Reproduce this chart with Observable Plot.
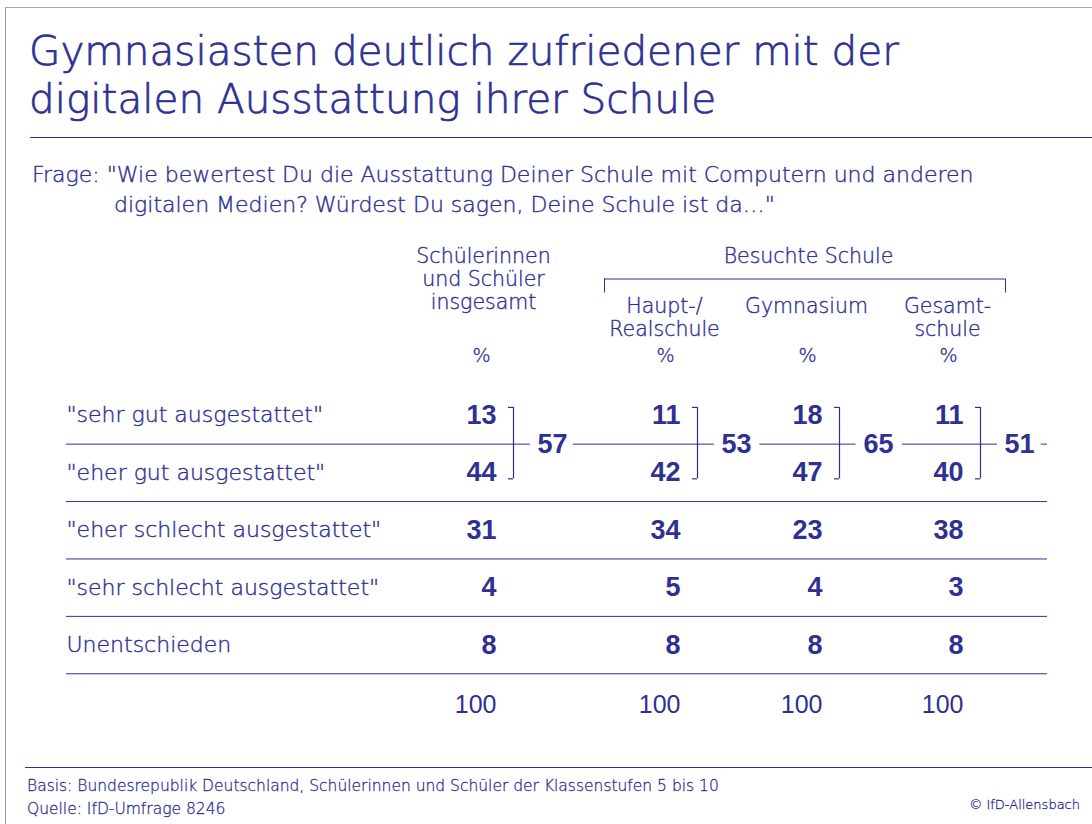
<!DOCTYPE html>
<html>
<head>
<meta charset="utf-8">
<script src="https://cdn.jsdelivr.net/npm/d3@7"></script>
<script src="https://cdn.jsdelivr.net/npm/@observablehq/plot@0.6"></script>
<style>
  html, body { margin: 0; padding: 0; background: #fff; }
  #page { position: relative; width: 1092px; height: 824px; overflow: hidden;
          font-family: "DejaVu Sans", sans-serif; color: #2e3192; background: #fff; }
  #frame { position: absolute; left: 5px; top: 7px; width: 1200px; height: 900px;
           border-left: 1.5px solid #9a9a9a; border-top: 1.5px solid #a8a8a8; }
  .abs { position: absolute; white-space: nowrap; }
  #title { left: 29px; top: 27px; font-size: 40.5px; line-height: 48px; font-weight: 200;
           -webkit-text-stroke: 0.7px #2e3192; }
  #rule1 { left: 30px; top: 137px; width: 1070px; height: 1.2px; background: #2e3192; }
  .q { font-size: 22px; line-height: 30px; font-weight: 200; -webkit-text-stroke: 0.4px #2e3192; }
  #q1 { left: 32px; top: 160px; }
  #q2 { left: 114px; top: 190px; }
  #chart { left: 0; top: 230px; }
  #rule2 { left: 25px; top: 767px; width: 1070px; height: 1.2px; background: #2e3192; }
  .foot { font-size: 15.5px; line-height: 22px; font-weight: 200; -webkit-text-stroke: 0.3px #2e3192; }
  #f1 { left: 27px; top: 775px; }
  #f2 { left: 27px; top: 798px; }
  #copy { right: 12px; top: 795px; font-size: 13px; line-height: 20px; font-weight: 200; -webkit-text-stroke: 0.3px #2e3192; }
</style>
</head>
<body>
<div id="page">
  <div id="frame"></div>
  <div id="title" class="abs">Gymnasiasten deutlich zufriedener mit der<br>digitalen Ausstattung ihrer Schule</div>
  <div id="rule1" class="abs"></div>
  <div id="q1" class="abs q">Frage: "Wie bewertest Du die Ausstattung Deiner Schule mit Computern und anderen</div>
  <div id="q2" class="abs q">digitalen Medien? Würdest Du sagen, Deine Schule ist da…"</div>
  <div id="chart" class="abs"></div>
  <div id="rule2" class="abs"></div>
  <div id="f1" class="abs foot">Basis: Bundesrepublik Deutschland, Schülerinnen und Schüler der Klassenstufen 5 bis 10</div>
  <div id="f2" class="abs foot">Quelle: IfD-Umfrage 8246</div>
  <div id="copy" class="abs">© IfD-Allensbach</div>
</div>
<script>
// ---- data ----
const rowLabels = [
  '"sehr gut ausgestattet"',
  '"eher gut ausgestattet"',
  '"eher schlecht ausgestattet"',
  '"sehr schlecht ausgestattet"',
  'Unentschieden'
];
const columnLabels = ["Schülerinnen\nund Schüler\ninsgesamt", "Haupt-/\nRealschule", "Gymnasium", "Gesamt-\nschule"];
const groupLabel = "Besuchte Schule";
const unitLabel = "%";
const insgesamt    = [13, 44, 31, 4, 8];
const hauptReal    = [11, 42, 34, 5, 8];
const gymnasium    = [18, 47, 23, 4, 8];
const gesamtschule = [11, 40, 38, 3, 8];

// ---- derived tables ----
const series = [insgesamt, hauptReal, gymnasium, gesamtschule];
const cols = columnLabels.map((label, c) => ({col: c, label}));
const cells = series.flatMap((vals, c) => vals.map((v, r) => ({col: c, row: r, value: v})));
const goodTotals = series.map((vals, c) => ({col: c, value: vals[0] + vals[1]}));
const sumRow = rowLabels.length; // row index of the 100 line
const sums = series.map((vals, c) => ({col: c, value: d3.sum(vals)}));
const rows = rowLabels.map((label, r) => ({row: r, label}));
const separators = rowLabels.map((_, r) => r + 0.5);
const first = 0, last = series.length - 1;
const tableStart = -1, tableEnd = series.length; // label column and right end of the rules

const blue = "#2e3192";
const textFont = "'DejaVu Sans', sans-serif";
const numFont = "'Liberation Sans', Arial, sans-serif";
const thin = {fill: blue, stroke: blue, strokeWidth: 0.4, fontWeight: 200};

const chart = Plot.plot({
  width: 1092,
  height: 510,
  margin: 0,
  x: {type: "linear", domain: [-1, 0, 1, 2, 3, 4], range: [66, 496, 680, 822, 963, 1047], axis: null},
  y: {type: "linear", domain: [-1, sumRow], range: [127.5, 472], axis: null},
  style: {fontFamily: textFont, fontSize: "20px", color: blue, background: "transparent", overflow: "visible"},
  marks: [
    // row separators
    Plot.ruleY(separators, {y: d => d, x1: tableStart, x2: tableEnd, stroke: blue, strokeWidth: 1}),
    // row labels
    Plot.text(rows, {x: tableStart, y: "row", text: "label", textAnchor: "start", fontSize: 22, ...thin}),
    // header: total column
    Plot.text(cols.filter(d => d.col === first), {x: "col", y: () => -1, text: "label", dx: -13, dy: -111,
      lineAnchor: "top", lineHeight: 1.12, fontSize: 20.5, ...thin}),
    // header: school types
    Plot.text(cols.filter(d => d.col !== first), {x: "col", y: () => -1, text: "label", dx: -16, dy: -61,
      lineAnchor: "top", lineHeight: 1.1, fontSize: 20.5, ...thin}),
    // group label + bracket
    Plot.text([groupLabel], {x: () => 2, y: () => -1, text: d => d, dx: -14, dy: -102, fontSize: 20.5, ...thin}),
    Plot.ruleY([groupLabel], {y: () => -1, x1: () => 1, x2: () => last, dy: -79, insetLeft: -76, insetRight: -42, stroke: blue}),
    Plot.ruleX([groupLabel], {x: () => 1, y1: () => -1, y2: () => -1, dx: -76, dy: -79, insetBottom: -14, stroke: blue}),
    Plot.ruleX([groupLabel], {x: () => last, y1: () => -1, y2: () => -1, dx: 42, dy: -79, insetBottom: -14, stroke: blue}),
    // % row
    Plot.text(cols, {x: "col", y: () => -1, text: () => unitLabel, dx: -15, dy: -2, fontSize: 19, ...thin}),
    // braces
    Plot.ruleX(goodTotals, {x: "col", y1: () => 0, y2: () => 1, dx: 17, insetTop: -8, insetBottom: -6, stroke: blue, strokeWidth: 1.2}),
    Plot.ruleY(goodTotals, {x1: "col", x2: "col", y: () => 0, dx: 17, dy: -8, insetLeft: -5, stroke: blue, strokeWidth: 1.2}),
    Plot.ruleY(goodTotals, {x1: "col", x2: "col", y: () => 1, dx: 17, dy: 6, insetLeft: -5, stroke: blue, strokeWidth: 1.2}),
    // good totals with white halo interrupting the line
    Plot.text(goodTotals, {x: "col", y: () => 0.5, text: "value", dx: 56, fill: blue, stroke: "white", strokeWidth: 18,
      paintOrder: "stroke", fontFamily: numFont, fontSize: 27, fontWeight: 700}),
    // values
    Plot.text(cells, {x: "col", y: "row", text: "value", textAnchor: "end", fill: blue, fontFamily: numFont, fontSize: 27, fontWeight: 700}),
    // sums
    Plot.text(sums, {x: "col", y: () => sumRow, text: "value", textAnchor: "end", dy: 2, fill: blue, fontFamily: numFont, fontSize: 25})
  ]
});
document.getElementById("chart").appendChild(chart);
</script>
</body>
</html>
